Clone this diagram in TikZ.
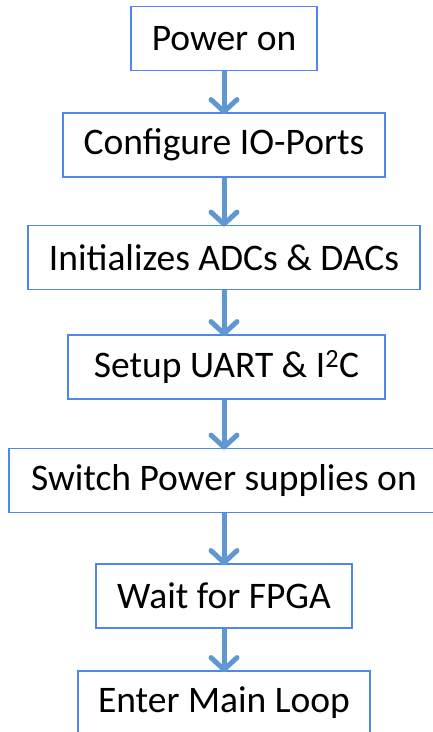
\documentclass[tikz,border=0pt]{standalone}
\usepackage{fontspec}
\setmainfont{Carlito}
\usepackage{tikz}
\usetikzlibrary{arrows.meta}

\definecolor{boxblue}{HTML}{4F86F0}
\definecolor{arrowblue}{HTML}{5F97D0}

\tikzset{
	stepbox/.style={draw=boxblue,line width=1.8pt,minimum height=64pt,inner sep=0pt,
		font=\fontsize{37.5}{45}\selectfont},
	flow/.style={arrowblue,line width=5pt,
		-{Straight Barb[length=12pt,width=26pt,line cap=round,line join=round]}}
}

\begin{document}
\begin{tikzpicture}[x=1pt,y=-1pt]
	\useasboundingbox (0,0) rectangle (433,732);

	\node[stepbox,minimum width=186pt] (power) at (224,38.5) {Power on};
	\node[stepbox,minimum width=322pt] (ports) at (224,145) {Configure IO-Ports};
	\node[stepbox,minimum width=392pt] (adc) at (224,257.5) {Initializes ADCs \& DACs};
	\node[stepbox,minimum width=317pt] (uart) at (226.5,367) {Setup UART \& I\textsuperscript{2}C\hspace{12pt}};
	\node[stepbox,minimum width=430pt] (supply) at (224,480.5) {Switch Power supplies on};
	\node[stepbox,minimum width=256pt] (fpga) at (224,596) {Wait for FPGA};
	\node[stepbox,minimum width=292pt] (loop) at (224,703) {Enter Main Loop};

	\draw[flow] (power.south) -- ([yshift=-2pt]ports.north);
	\draw[flow] (ports.south) -- ([yshift=-2pt]adc.north);
	\draw[flow] (adc.south) -- ([yshift=-2pt]adc.south |- uart.north);
	\draw[flow] (uart.south -| adc.south) -- ([yshift=-2pt]supply.north);
	\draw[flow] (supply.south) -- ([yshift=-2pt]fpga.north);
	\draw[flow] (fpga.south) -- ([yshift=-2pt]loop.north);
\end{tikzpicture}
\end{document}
